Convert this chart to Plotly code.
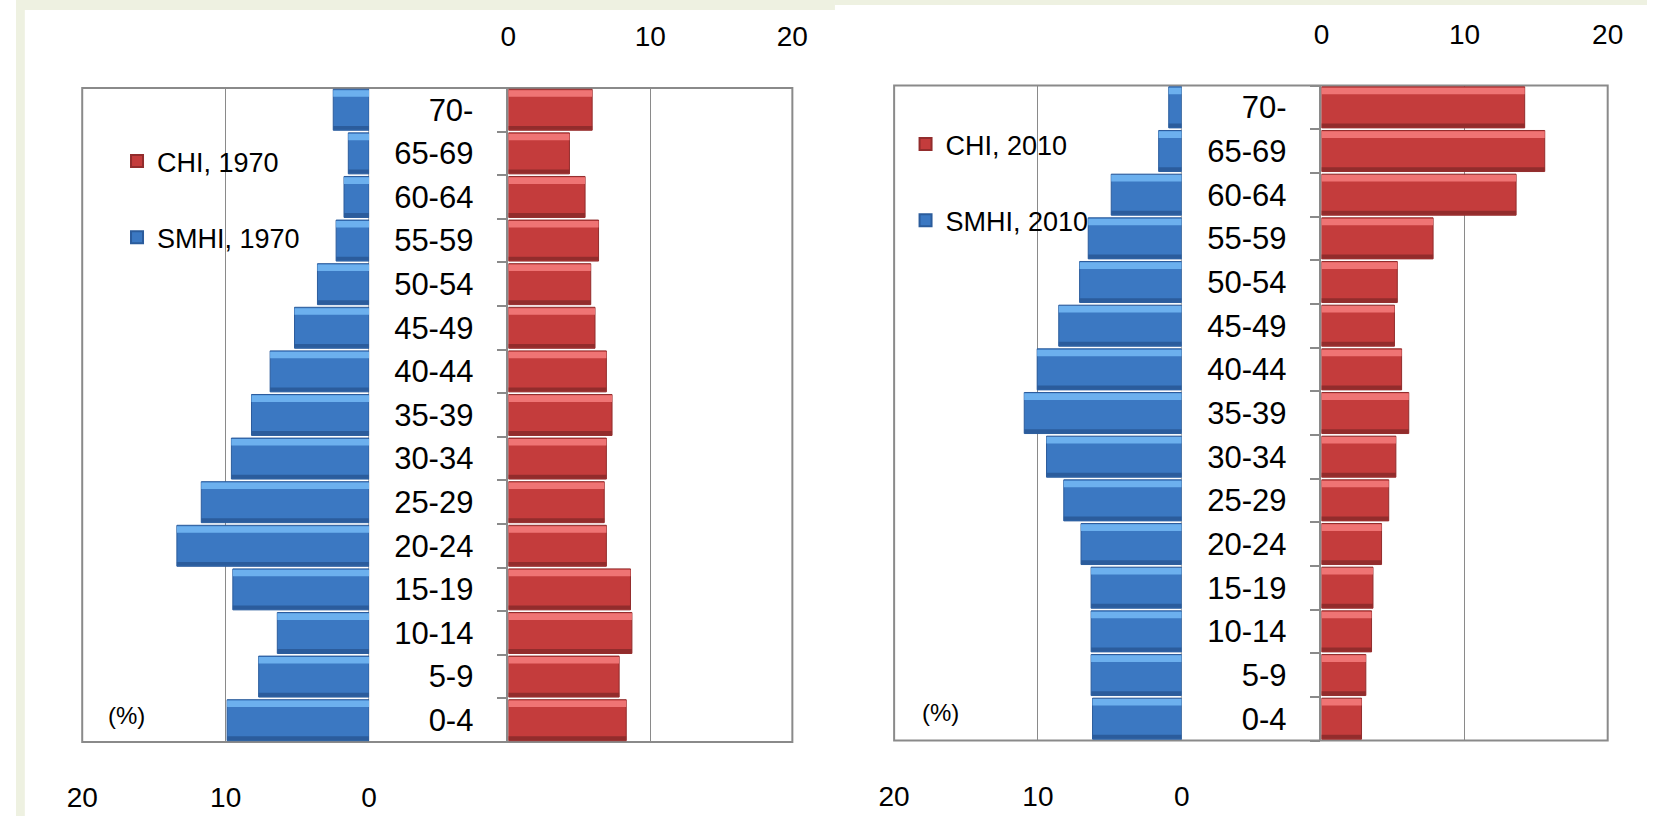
import plotly.graph_objects as go

# ---------------- data ----------------
ages = ["0-4", "5-9", "10-14", "15-19", "20-24", "25-29", "30-34", "35-39",
        "40-44", "45-49", "50-54", "55-59", "60-64", "65-69", "70-"]

smhi_1970 = [9.9, 7.7, 6.4, 9.5, 13.4, 11.7, 9.6, 8.2, 6.9, 5.2, 3.6, 2.3, 1.75, 1.45, 2.5]
chi_1970 = [8.3, 7.8, 8.7, 8.6, 6.9, 6.75, 6.9, 7.3, 6.9, 6.1, 5.8, 6.35, 5.4, 4.3, 5.9]
smhi_2010 = [6.2, 6.3, 6.3, 6.3, 7.0, 8.2, 9.4, 10.95, 10.05, 8.55, 7.1, 6.5, 4.9, 1.6, 0.9]
chi_2010 = [2.8, 3.1, 3.5, 3.6, 4.2, 4.7, 5.2, 6.1, 5.6, 5.1, 5.3, 7.8, 13.6, 15.6, 14.2]

axis_ticks = [0, 10, 20]

# ---------------- style ----------------
FONT = "Liberation Sans, Arial, sans-serif"
GRID = "#8a8a8a"
BLUE = dict(mid="#3b78c2", light="#6cb0ee", dark="#2b5c9c")
RED = dict(mid="#c43c3c", light="#ef7474", dark="#922c2c")
TINT = "#eef1e1"
W, H = 1663, 816

# panel geometry (paper fractions)
P1 = dict(blue=[0.0406, 0.2165], red=[0.3019, 0.4760], y=[0.0907, 0.8922])
P2 = dict(blue=[0.5384, 0.7147], red=[0.8004, 0.9759], y=[0.0925, 0.8952])

BAR_W = 0.94
fig = go.Figure()


def add_series(values, name, colors, xa, ya, legend, rank):
    # main body
    fig.add_trace(go.Bar(
        y=ages, x=values, orientation="h", name=name,
        xaxis=xa, yaxis=ya, width=BAR_W, offset=-BAR_W / 2,
        marker=dict(color=colors["mid"], line=dict(color=colors["dark"], width=1)),
        legend=legend, legendgroup=name, legendrank=rank,
    ))
    # top highlight (bevel)
    fig.add_trace(go.Bar(
        y=ages, x=values, orientation="h", showlegend=False, hoverinfo="skip",
        xaxis=xa, yaxis=ya, width=0.15, offset=BAR_W / 2 - 0.17,
        marker=dict(color=colors["light"], line=dict(width=0)),
    ))
    # bottom shade (bevel)
    fig.add_trace(go.Bar(
        y=ages, x=values, orientation="h", showlegend=False, hoverinfo="skip",
        xaxis=xa, yaxis=ya, width=0.09, offset=-BAR_W / 2 + 0.01,
        marker=dict(color=colors["dark"], line=dict(width=0)),
    ))


add_series(chi_1970, "CHI, 1970", RED, "x2", "y", "legend", 1)
add_series(smhi_1970, "SMHI, 1970", BLUE, "x", "y", "legend", 2)
add_series(chi_2010, "CHI, 2010", RED, "x4", "y2", "legend2", 1)
add_series(smhi_2010, "SMHI, 2010", BLUE, "x3", "y2", "legend2", 2)

tick_font = dict(family=FONT, size=28, color="#000000")
age_font = dict(family=FONT, size=31, color="#000000")


def blue_axis(domain, anchor):
    return dict(domain=domain, anchor=anchor, range=[20, 0], side="bottom",
                tickvals=axis_ticks, ticks="", showgrid=True, gridcolor=GRID,
                gridwidth=1.3, zeroline=False, showline=False,
                tickfont=tick_font, ticklabelstandoff=36, fixedrange=True)


def red_axis(domain, anchor):
    return dict(domain=domain, anchor=anchor, range=[0, 20], side="top",
                tickvals=axis_ticks, ticks="", showgrid=True, gridcolor=GRID,
                gridwidth=1.3, zeroline=False, showline=False,
                tickfont=tick_font, ticklabelstandoff=35, fixedrange=True)


def age_axis(domain, anchor):
    return dict(domain=domain, anchor=anchor, side="left", type="category",
                categoryorder="array", categoryarray=ages, range=[-0.5, 14.5],
                ticks="outside", tickson="boundaries", ticklen=10,
                tickcolor=GRID, tickwidth=1.5, showline=True, linecolor=GRID,
                linewidth=1.5, showgrid=False, zeroline=False,
                tickfont=age_font, ticklabelstandoff=27, fixedrange=True)


shapes = []
# background tint strips
shapes.append(dict(type="rect", xref="paper", yref="paper", x0=0, x1=9 / W, y0=0, y1=1,
                   fillcolor=TINT, line=dict(width=0), layer="below"))
shapes.append(dict(type="rect", xref="paper", yref="paper", x0=0, x1=835 / W, y0=1 - 10 / H, y1=1,
                   fillcolor=TINT, line=dict(width=0), layer="below"))
shapes.append(dict(type="rect", xref="paper", yref="paper", x0=835 / W, x1=1, y0=1 - 5 / H, y1=1,
                   fillcolor=TINT, line=dict(width=0), layer="below"))
# plot frames and blue zero lines
for p, bx in ((P1, "x"), (P2, "x3")):
    shapes.append(dict(type="rect", xref="paper", yref="paper",
                       x0=p["blue"][0], x1=p["red"][1], y0=p["y"][0], y1=p["y"][1],
                       line=dict(color=GRID, width=2), fillcolor="rgba(0,0,0,0)", layer="below"))
    shapes.append(dict(type="line", xref=bx, yref="paper", x0=0, x1=0,
                       y0=p["y"][0], y1=p["y"][1],
                       line=dict(color=GRID, width=1.5), layer="below"))

annotations = []
for p, cx, cy in ((P1, 113, 715), (P2, 943, 712)):
    annotations.append(dict(text="(%)", xref="paper", yref="paper",
                            x=cx / W, y=1 - cy / H, xanchor="center", yanchor="middle",
                            showarrow=False, font=dict(family=FONT, size=24, color="#000000")))

legend_common = dict(font=dict(family=FONT, size=27, color="#000000"),
                     bgcolor="rgba(0,0,0,0)", borderwidth=0,
                     xanchor="left", yanchor="top", tracegroupgap=38,
                     itemsizing="constant")

fig.update_layout(
    width=W, height=H, autosize=False,
    margin=dict(l=0, r=0, t=0, b=0),
    paper_bgcolor="#ffffff", plot_bgcolor="rgba(0,0,0,0)",
    barmode="overlay", bargap=0.06,
    showlegend=True,
    xaxis=blue_axis(P1["blue"], "y"),
    xaxis2=red_axis(P1["red"], "y"),
    yaxis=age_axis(P1["y"], "x2"),
    xaxis3=blue_axis(P2["blue"], "y2"),
    xaxis4=red_axis(P2["red"], "y2"),
    yaxis2=age_axis(P2["y"], "x4"),
    legend=dict(x=103 / W, y=1 - 137 / H, **legend_common),
    legend2=dict(x=907 / W, y=1 - 120 / H, **legend_common),
    shapes=shapes,
    annotations=annotations,
)

fig.write_html("out.html")
